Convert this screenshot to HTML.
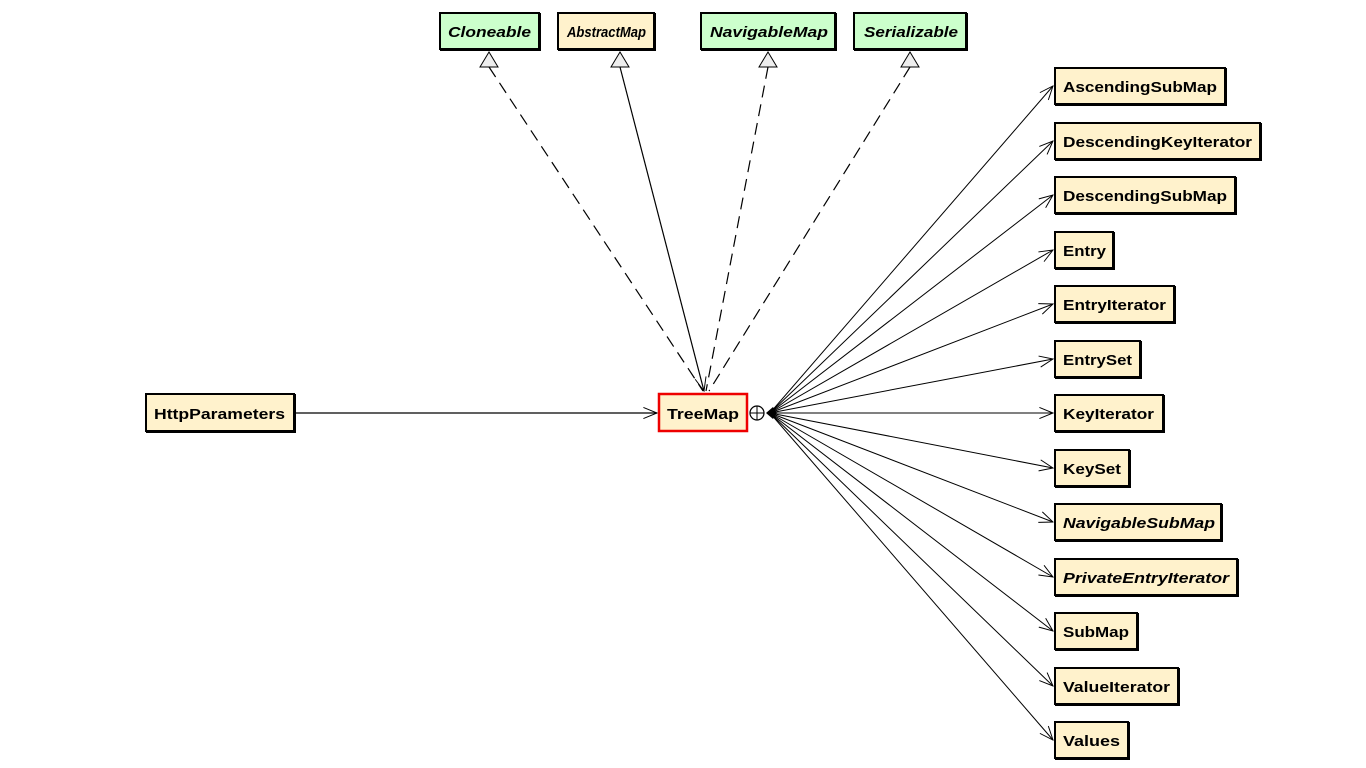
<!DOCTYPE html>
<html><head><meta charset="utf-8"><style>
html,body{margin:0;padding:0;background:#fff;}
svg{display:block;}
text{font-family:"Liberation Sans",Arial,sans-serif;font-weight:bold;font-size:15px;fill:#000;}
</style></head><body>
<svg width="1366" height="768" viewBox="0 0 1366 768" xmlns="http://www.w3.org/2000/svg">
<defs>
<marker id="open" viewBox="0 0 20 20" refX="19" refY="10" markerWidth="16" markerHeight="16" markerUnits="userSpaceOnUse" orient="auto">
<path d="M2,3 L19,10 L2,17" fill="none" stroke="#000" stroke-width="1.2"/>
</marker>
</defs>
<g stroke="#000" stroke-width="1.2" fill="none">
<line x1="489" y1="67" x2="703" y2="391" stroke-dasharray="12,7"/>
<line x1="768" y1="67" x2="706" y2="391" stroke-dasharray="12,7"/>
<line x1="910" y1="67" x2="709" y2="391" stroke-dasharray="12,7"/>
<line x1="620" y1="67" x2="704" y2="391" marker-end="url(#open)"/>
</g>
<g stroke="#000" stroke-width="1" fill="#eee">
<polygon points="489,52 480,67 498,67"/>
<polygon points="620,52 611,67 629,67"/>
<polygon points="768,52 759,67 777,67"/>
<polygon points="910,52 901,67 919,67"/>
</g>
<line x1="296" y1="413" x2="657" y2="413" stroke="#000" stroke-width="1.2" marker-end="url(#open)"/>
<g stroke="#000" stroke-width="1" marker-end="url(#open)">
<line x1="770" y1="413" x2="1053" y2="86"/>
<line x1="770" y1="413" x2="1053" y2="141"/>
<line x1="770" y1="413" x2="1053" y2="195"/>
<line x1="770" y1="413" x2="1053" y2="250"/>
<line x1="770" y1="413" x2="1053" y2="304"/>
<line x1="770" y1="413" x2="1053" y2="359"/>
<line x1="770" y1="413" x2="1053" y2="413"/>
<line x1="770" y1="413" x2="1053" y2="468"/>
<line x1="770" y1="413" x2="1053" y2="522"/>
<line x1="770" y1="413" x2="1053" y2="577"/>
<line x1="770" y1="413" x2="1053" y2="631"/>
<line x1="770" y1="413" x2="1053" y2="686"/>
<line x1="770" y1="413" x2="1053" y2="740"/>
</g>
<circle cx="757" cy="413" r="7" fill="#fff" stroke="#000" stroke-width="1.2"/>
<line x1="750" y1="413" x2="764" y2="413" stroke="#000"/>
<line x1="757" y1="406" x2="757" y2="420" stroke="#000"/>
<polygon points="766,413 773,407 777,413 773,419" fill="#000"/>

<g stroke="#000" stroke-width="2">
<rect x="440" y="13" width="99" height="36" fill="#ccffcc"/>
<rect x="558" y="13" width="96" height="36" fill="#fff2cc"/>
<rect x="701" y="13" width="134" height="36" fill="#ccffcc"/>
<rect x="854" y="13" width="112" height="36" fill="#ccffcc"/>
<rect x="146" y="394" width="148" height="37" fill="#fff2cc"/>
<rect x="1055" y="68" width="170" height="36" fill="#fff2cc"/>
<rect x="1055" y="123" width="205" height="36" fill="#fff2cc"/>
<rect x="1055" y="177" width="180" height="36" fill="#fff2cc"/>
<rect x="1055" y="232" width="58" height="36" fill="#fff2cc"/>
<rect x="1055" y="286" width="119" height="36" fill="#fff2cc"/>
<rect x="1055" y="341" width="85" height="36" fill="#fff2cc"/>
<rect x="1055" y="395" width="108" height="36" fill="#fff2cc"/>
<rect x="1055" y="450" width="74" height="36" fill="#fff2cc"/>
<rect x="1055" y="504" width="166" height="36" fill="#fff2cc"/>
<rect x="1055" y="559" width="182" height="36" fill="#fff2cc"/>
<rect x="1055" y="613" width="82" height="36" fill="#fff2cc"/>
<rect x="1055" y="668" width="123" height="36" fill="#fff2cc"/>
<rect x="1055" y="722" width="73" height="36" fill="#fff2cc"/>
</g>
<rect x="659" y="394" width="88" height="37" fill="#fff2cc" stroke="#e00" stroke-width="2.5"/>
<g fill="#000">
<rect x="539" y="13" width="2" height="38"/><rect x="440" y="49" width="101" height="2"/>
<rect x="654" y="13" width="2" height="38"/><rect x="558" y="49" width="98" height="2"/>
<rect x="835" y="13" width="2" height="38"/><rect x="701" y="49" width="136" height="2"/>
<rect x="966" y="13" width="2" height="38"/><rect x="854" y="49" width="114" height="2"/>
<rect x="294" y="394" width="2" height="39"/><rect x="146" y="431" width="150" height="2"/>
<rect x="1225" y="68" width="2" height="38"/><rect x="1055" y="104" width="172" height="2"/>
<rect x="1260" y="123" width="2" height="38"/><rect x="1055" y="159" width="207" height="2"/>
<rect x="1235" y="177" width="2" height="38"/><rect x="1055" y="213" width="182" height="2"/>
<rect x="1113" y="232" width="2" height="38"/><rect x="1055" y="268" width="60" height="2"/>
<rect x="1174" y="286" width="2" height="38"/><rect x="1055" y="322" width="121" height="2"/>
<rect x="1140" y="341" width="2" height="38"/><rect x="1055" y="377" width="87" height="2"/>
<rect x="1163" y="395" width="2" height="38"/><rect x="1055" y="431" width="110" height="2"/>
<rect x="1129" y="450" width="2" height="38"/><rect x="1055" y="486" width="76" height="2"/>
<rect x="1221" y="504" width="2" height="38"/><rect x="1055" y="540" width="168" height="2"/>
<rect x="1237" y="559" width="2" height="38"/><rect x="1055" y="595" width="184" height="2"/>
<rect x="1137" y="613" width="2" height="38"/><rect x="1055" y="649" width="84" height="2"/>
<rect x="1178" y="668" width="2" height="38"/><rect x="1055" y="704" width="125" height="2"/>
<rect x="1128" y="722" width="2" height="38"/><rect x="1055" y="758" width="75" height="2"/>
</g>
<text x="448" y="37" font-style="italic" textLength="83" lengthAdjust="spacingAndGlyphs">Cloneable</text>
<text x="567" y="37" font-style="italic" textLength="79" lengthAdjust="spacingAndGlyphs">AbstractMap</text>
<text x="710" y="37" font-style="italic" textLength="118" lengthAdjust="spacingAndGlyphs">NavigableMap</text>
<text x="864" y="37" font-style="italic" textLength="94" lengthAdjust="spacingAndGlyphs">Serializable</text>
<text x="154" y="419" textLength="131" lengthAdjust="spacingAndGlyphs">HttpParameters</text>
<text x="667" y="419" textLength="72" lengthAdjust="spacingAndGlyphs">TreeMap</text>
<g>
<text x="1063" y="92" textLength="154" lengthAdjust="spacingAndGlyphs">AscendingSubMap</text>
<text x="1063" y="147" textLength="189" lengthAdjust="spacingAndGlyphs">DescendingKeyIterator</text>
<text x="1063" y="201" textLength="164" lengthAdjust="spacingAndGlyphs">DescendingSubMap</text>
<text x="1063" y="256" textLength="43" lengthAdjust="spacingAndGlyphs">Entry</text>
<text x="1063" y="310" textLength="103" lengthAdjust="spacingAndGlyphs">EntryIterator</text>
<text x="1063" y="365" textLength="69" lengthAdjust="spacingAndGlyphs">EntrySet</text>
<text x="1063" y="419" textLength="91" lengthAdjust="spacingAndGlyphs">KeyIterator</text>
<text x="1063" y="474" textLength="58" lengthAdjust="spacingAndGlyphs">KeySet</text>
<text x="1063" y="528" font-style="italic" textLength="152" lengthAdjust="spacingAndGlyphs">NavigableSubMap</text>
<text x="1063" y="583" font-style="italic" textLength="166" lengthAdjust="spacingAndGlyphs">PrivateEntryIterator</text>
<text x="1063" y="637" textLength="66" lengthAdjust="spacingAndGlyphs">SubMap</text>
<text x="1063" y="692" textLength="107" lengthAdjust="spacingAndGlyphs">ValueIterator</text>
<text x="1063" y="746" textLength="57" lengthAdjust="spacingAndGlyphs">Values</text>
</g>
</svg>
</body></html>
